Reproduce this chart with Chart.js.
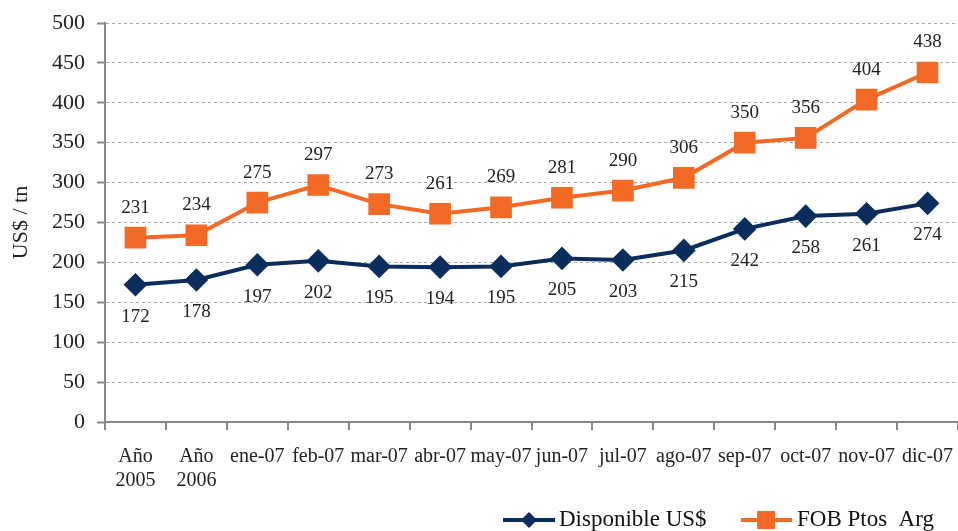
<!DOCTYPE html>
<html>
<head>
<meta charset="utf-8">
<script src="https://cdn.jsdelivr.net/npm/chart.js@4"></script>
<style>
html,body{margin:0;padding:0;background:#fff;}
#wrap{width:958px;height:531px;position:relative;}
</style>
</head>
<body>
<div id="wrap"><canvas id="c" width="958" height="531"></canvas></div>
<script>
const categories = [['Año','2005'],['Año','2006'],'ene-07','feb-07','mar-07','abr-07','may-07','jun-07','jul-07','ago-07','sep-07','oct-07','nov-07','dic-07'];
const disponible = [172,178,197,202,195,194,195,205,203,215,242,258,261,274];
const fob = [231,234,275,297,273,261,269,281,290,306,350,356,404,438];
const seriesNames = ['Disponible US$','FOB Ptos  Arg'];
const yTitle = 'US$ / tn';

const FONT = "'Liberation Serif', 'DejaVu Serif', serif";
const NAVY = '#0a2d5c';
const ORANGE = '#f26a25';

const labelPlugin = {
  id: 'vlabels',
  afterDatasetsDraw(chart) {
    const ctx = chart.ctx;
    ctx.save();
    ctx.font = '19px ' + FONT;
    ctx.fillStyle = '#222';
    ctx.textAlign = 'center';
    ctx.textBaseline = 'middle';
    chart.data.datasets.forEach((ds, i) => {
      const meta = chart.getDatasetMeta(i);
      meta.data.forEach((pt, j) => {
        const off = i === 0 ? 32 : -30;
        ctx.fillText(String(ds.data[j]), pt.x, pt.y + off);
      });
    });
    ctx.restore();
  }
};

const legendPlugin = {
  id: 'customLegend',
  afterDraw(chart) {
    const ctx = chart.ctx;
    ctx.save();
    const y = 520;
    ctx.font = '23px ' + FONT;
    ctx.textBaseline = 'middle';
    ctx.textAlign = 'left';
    ctx.strokeStyle = NAVY; ctx.lineWidth = 4;
    ctx.beginPath(); ctx.moveTo(503, y); ctx.lineTo(555, y); ctx.stroke();
    ctx.fillStyle = NAVY;
    ctx.beginPath(); ctx.moveTo(529 - 8, y); ctx.lineTo(529, y - 8); ctx.lineTo(529 + 8, y); ctx.lineTo(529, y + 8); ctx.closePath(); ctx.fill();
    ctx.fillStyle = '#111';
    ctx.fillText(seriesNames[0], 559, y);
    ctx.strokeStyle = ORANGE;
    ctx.beginPath(); ctx.moveTo(741, y); ctx.lineTo(792, y); ctx.stroke();
    ctx.fillStyle = ORANGE;
    ctx.fillRect(766 - 9, y - 9, 18, 18);
    ctx.fillStyle = '#111';
    ctx.fillText(seriesNames[1], 797, y);
    ctx.restore();
  }
};

new Chart(document.getElementById('c'), {
  type: 'line',
  data: {
    labels: categories,
    datasets: [
      { label: seriesNames[0], data: disponible, borderColor: NAVY, backgroundColor: NAVY,
        borderWidth: 4, pointStyle: 'rectRot', pointRadius: 9, pointHoverRadius: 9, tension: 0 },
      { label: seriesNames[1], data: fob, borderColor: ORANGE, backgroundColor: ORANGE,
        borderWidth: 4, pointStyle: 'rect', pointRadius: 12.5, pointHoverRadius: 12.5, tension: 0 }
    ]
  },
  options: {
    responsive: false,
    animation: false,
    events: [],
    layout: { autoPadding: false, padding: { top: 23, right: 0, bottom: 0, left: 0 } },
    plugins: { legend: { display: false }, tooltip: { enabled: false } },
    scales: {
      x: {
        offset: true,
        grid: { display: true, drawOnChartArea: false, drawTicks: true, tickLength: 8, offset: true,
                tickColor: '#888', tickWidth: 2, lineWidth: 2, color: '#888' },
        border: { display: true, color: '#888', width: 2 },
        ticks: { color: '#222', font: { family: FONT, size: 20 }, padding: 15, maxRotation: 0, autoSkip: false, lineHeight: 1.15 },
        afterFit(s) { s.height = 109; s.paddingLeft = 0; s.paddingRight = 0; }
      },
      y: {
        min: 0, max: 500,
        ticks: { stepSize: 50, color: '#222', font: { family: FONT, size: 22 }, padding: 12 },
        grid: { color: '#aaa', lineWidth: 1, drawTicks: true, tickLength: 8, tickColor: '#888', tickWidth: 2, tickBorderDash: [] },
        border: { display: true, color: '#888', width: 2, dash: [3, 3] },
        title: { display: true, text: yTitle, color: '#222', font: { family: FONT, size: 22 }, padding: { top: 8, bottom: 0 } },
        afterFit(s) { s.width = 105; s.paddingTop = 0; s.paddingBottom = 0; }
      }
    }
  },
  plugins: [labelPlugin, legendPlugin]
});
</script>
</body>
</html>
